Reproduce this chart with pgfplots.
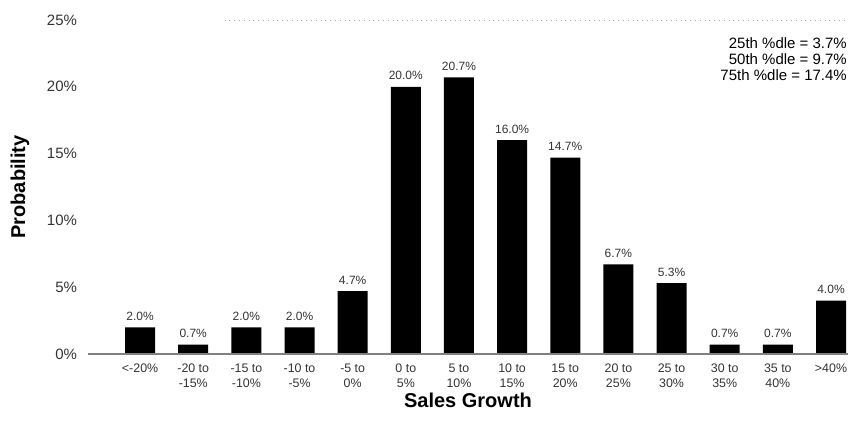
\documentclass[border=0pt]{standalone}
\usepackage{fontspec}
\setmainfont{Liberation Sans}
\usepackage{pgfplots}
\pgfplotsset{compat=1.18}
\begin{document}
\begin{tikzpicture}
\useasboundingbox (-44pt,-36pt) rectangle (384pt,177pt);
\begin{axis}[
  at={(0pt,0pt)}, anchor=south west,
  scale only axis, width=380pt, height=167pt,
  xmin=-0.98, xmax=13.32, ymin=0, ymax=25,
  clip=false,
  axis line style={draw=none},
  tick style={draw=none},
  /pgf/number format/assume math mode=true,
  ybar, bar width=15pt,
  xtick={0,...,13},
  xticklabels={{<-20\%},{-20 to\\-15\%},{-15 to\\-10\%},{-10 to\\-5\%},{-5 to\\0\%},{0 to\\5\%},{5 to\\10\%},{10 to\\15\%},{15 to\\20\%},{20 to\\25\%},{25 to\\30\%},{30 to\\35\%},{35 to\\40\%},{>40\%}},
  xticklabel style={align=center, font=\fontsize{6.2}{7.6}\selectfont, text=black!80, yshift=3pt},
  ytick={0,5,...,25},
  yticklabel={\pgfmathprintnumber{\tick}\%},
  yticklabel style={font=\fontsize{7.5}{8}\selectfont, text=black!80, xshift=-2pt},
  xlabel={\textbf{Sales Growth}},
  xlabel style={font=\fontsize{10}{12}\selectfont, yshift=4pt},
  ylabel={\textbf{Probability}},
  ylabel style={font=\fontsize{10}{12}\selectfont, yshift=2pt},
  nodes near coords={\pgfmathprintnumber[fixed,fixed zerofill,precision=1]{\pgfplotspointmeta}\%},
  every node near coord/.append style={font=\fontsize{6}{7}\selectfont, text=black!80},
]
\addplot[fill=black, draw=none] coordinates {
(0,2.0) (1,0.7) (2,2.0) (3,2.0) (4,4.7) (5,20.0) (6,20.7) (7,16.0)
(8,14.7) (9,6.7) (10,5.3) (11,0.7) (12,0.7) (13,4.0)};
\draw[black!50, line width=0.8pt] (rel axis cs:0,0) -- (rel axis cs:1,0);
\draw[black!35, dotted] (axis cs:1.59,25) -- (axis cs:13.32,25);
\node[anchor=north east, align=right, font=\fontsize{7.5}{8}\selectfont, inner sep=0pt] at (rel axis cs:0.999,0.948)
  {25th \%dle = 3.7\%\\50th \%dle = 9.7\%\\75th \%dle = 17.4\%};
\end{axis}
\end{tikzpicture}
\end{document}
